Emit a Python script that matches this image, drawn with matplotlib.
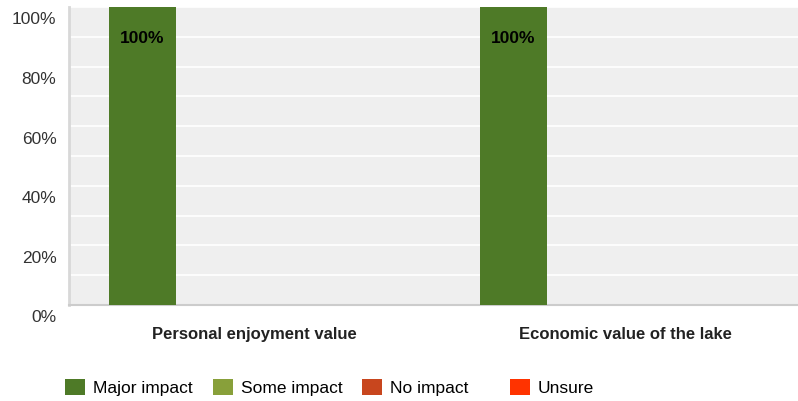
import matplotlib.pyplot as plt
import matplotlib.transforms as mtransforms
import numpy as np

categories = ['Personal enjoyment value', 'Economic value of the lake']
series_names = ['Major impact', 'Some impact', 'No impact', 'Unsure']
values = {
    'Major impact': [100, 100],
    'Some impact': [0, 0],
    'No impact': [0, 0],
    'Unsure': [0, 0],
}
colors = ['#4e7a27', '#88a03a', '#c8461e', '#ff3300']
yticks = [0, 20, 40, 60, 80, 100]

plt.rcParams['font.family'] = ['Liberation Sans', 'DejaVu Sans']

fig = plt.figure(figsize=(7.98, 4.02), dpi=100)
ax = fig.add_axes([69 / 798, 96 / 402, 742 / 798, 298 / 402])
ax.set_facecolor('#efefef')

x = np.arange(len(categories))
slot = 0.2013
width = 0.1806
handles = []
for i, name in enumerate(series_names):
    pos = x + (i - 1.5) * slot
    bars = ax.bar(pos, values[name], width, color=colors[i], zorder=3, label=name)
    handles.append(bars)
    for p, v in zip(pos, values[name]):
        if v > 0:
            ax.annotate(f'{v}%', (p, v), xytext=(0, -22), textcoords='offset points',
                        ha='center', va='center', fontsize=12.5, fontweight='bold',
                        color='black', zorder=4)

ax.set_xlim(-0.5, 1.5)
ax.set_ylim(0, 100)
ax.set_yticks(yticks)
ax.set_yticklabels([f'{t}%' for t in yticks], fontsize=12.5, color='#333333')
ax.set_yticks(np.arange(0, 101, 10), minor=True)
ax.yaxis.grid(True, which='both', color='white', linewidth=1.2, zorder=1)
ax.set_axisbelow(True)
ax.set_xticks(x)
ax.set_xticklabels(categories, fontsize=12, fontweight='bold', color='#222222')
ax.tick_params(axis='both', which='both', length=0)
ax.tick_params(axis='x', pad=15)
ax.tick_params(axis='y', pad=9)

# y labels sit a bit below their gridlines in the original
shift = mtransforms.ScaledTranslation(0, -7.5 / 72, fig.dpi_scale_trans)
for lbl in ax.get_yticklabels():
    lbl.set_transform(lbl.get_transform() + shift)

for s in ['top', 'right']:
    ax.spines[s].set_visible(False)
ax.spines['left'].set_color('#d8d8d8')
ax.spines['left'].set_linewidth(2)
ax.spines['bottom'].set_color('#cccccc')
ax.spines['bottom'].set_linewidth(1.5)

legend_x = [65, 213, 362, 510]
for h, name, lx in zip(handles, series_names, legend_x):
    fig.legend([h], [name], loc='center left', bbox_to_anchor=(lx / 798, 1 - 388 / 402),
               frameon=False, fontsize=12.5, handlelength=1.15, handleheight=1.05,
               handletextpad=0.45, borderpad=0, borderaxespad=0)

fig.savefig('out.png', dpi=100)
